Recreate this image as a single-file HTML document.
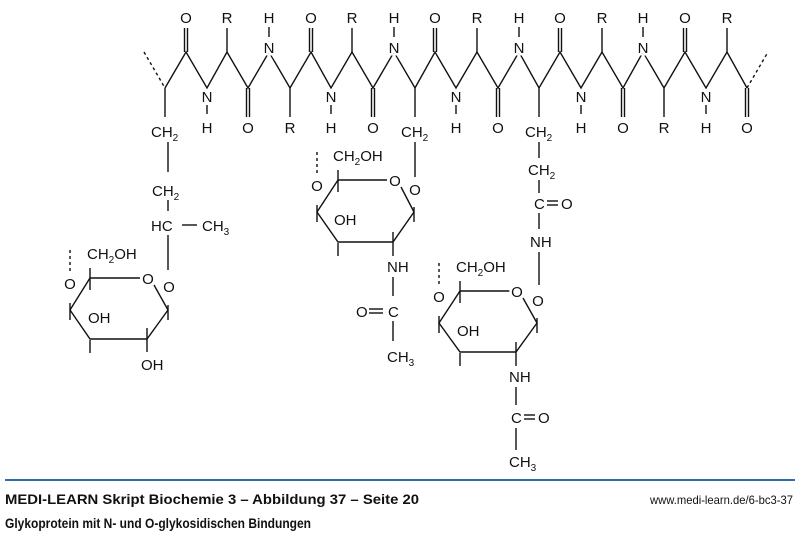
<!DOCTYPE html>
<html><head><meta charset="utf-8"><style>
html,body{margin:0;padding:0;background:#fff;}
svg{display:block;}
text{font-family:"Liberation Sans",sans-serif;font-size:15px;fill:#111;}
.n{stroke:#fff;stroke-width:5px;paint-order:stroke;}
.s{font-size:10px;}
line,polyline{stroke:#111;stroke-width:1.4;fill:none;}
.d{stroke-dasharray:3,3;}
.f{font-family:"Liberation Sans Narrow","Liberation Sans",sans-serif;}
</style></head><body>
<svg width="800" height="535" viewBox="0 0 800 535" xmlns="http://www.w3.org/2000/svg">
<!-- backbone -->
<line class="d" x1="144" y1="52" x2="165" y2="88"/>
<line class="d" x1="747" y1="88" x2="768" y2="52"/>
<polyline points="165,88 186,52 207,88 227,52 248,88 269,52 290,88 311,52 331,88 352,52 373,88 394,52 415,88 435,52 456,88 477,52 498,88 519,52 539,88 560,52 581,88 602,52 623,88 643,52 664,88 685,52 706,88 727,52 747,88"/>
<!-- upper C=O -->
<g>
<line x1="184.5" y1="52" x2="184.5" y2="28"/><line x1="187.5" y1="52" x2="187.5" y2="28"/>
<line x1="309.5" y1="52" x2="309.5" y2="28"/><line x1="312.5" y1="52" x2="312.5" y2="28"/>
<line x1="433.5" y1="52" x2="433.5" y2="28"/><line x1="436.5" y1="52" x2="436.5" y2="28"/>
<line x1="558.5" y1="52" x2="558.5" y2="28"/><line x1="561.5" y1="52" x2="561.5" y2="28"/>
<line x1="683.5" y1="52" x2="683.5" y2="28"/><line x1="686.5" y1="52" x2="686.5" y2="28"/>
</g>
<!-- upper R -->
<line x1="227" y1="52" x2="227" y2="28"/><line x1="352" y1="52" x2="352" y2="28"/>
<line x1="477" y1="52" x2="477" y2="28"/><line x1="602" y1="52" x2="602" y2="28"/>
<line x1="727" y1="52" x2="727" y2="28"/>
<!-- upper N-H -->
<line x1="269" y1="27" x2="269" y2="37"/><line x1="394" y1="27" x2="394" y2="37"/>
<line x1="519" y1="27" x2="519" y2="37"/><line x1="643" y1="27" x2="643" y2="37"/>
<!-- lower C=O -->
<line x1="246.5" y1="88" x2="246.5" y2="117"/><line x1="249.5" y1="88" x2="249.5" y2="117"/>
<line x1="371.5" y1="88" x2="371.5" y2="117"/><line x1="374.5" y1="88" x2="374.5" y2="117"/>
<line x1="496.5" y1="88" x2="496.5" y2="117"/><line x1="499.5" y1="88" x2="499.5" y2="117"/>
<line x1="621.5" y1="88" x2="621.5" y2="117"/><line x1="624.5" y1="88" x2="624.5" y2="117"/>
<line x1="745.5" y1="88" x2="745.5" y2="117"/><line x1="748.5" y1="88" x2="748.5" y2="117"/>
<!-- lower R / CH2 -->
<line x1="290" y1="88" x2="290" y2="117"/><line x1="664" y1="88" x2="664" y2="117"/>
<line x1="165" y1="88" x2="165" y2="117"/><line x1="415" y1="88" x2="415" y2="117"/>
<line x1="539" y1="88" x2="539" y2="117"/>
<!-- lower N-H -->
<line x1="207" y1="105" x2="207" y2="114"/><line x1="331" y1="105" x2="331" y2="114"/>
<line x1="456" y1="105" x2="456" y2="114"/><line x1="581" y1="105" x2="581" y2="114"/>
<line x1="706" y1="105" x2="706" y2="114"/>
<!-- top labels -->
<g text-anchor="middle">
<text x="186" y="23">O</text><text x="227" y="23">R</text><text x="269" y="23">H</text>
<text x="311" y="23">O</text><text x="352" y="23">R</text><text x="394" y="23">H</text>
<text x="435" y="23">O</text><text x="477" y="23">R</text><text x="519" y="23">H</text>
<text x="560" y="23">O</text><text x="602" y="23">R</text><text x="643" y="23">H</text>
<text x="685" y="23">O</text><text x="727" y="23">R</text>
<text class="n" x="269" y="53">N</text><text class="n" x="394" y="53">N</text>
<text class="n" x="519" y="53">N</text><text class="n" x="643" y="53">N</text>
<text class="n" x="207" y="102">N</text><text class="n" x="331" y="102">N</text>
<text class="n" x="456" y="102">N</text><text class="n" x="581" y="102">N</text>
<text class="n" x="706" y="102">N</text>
<text x="207" y="133">H</text><text x="248" y="133">O</text><text x="290" y="133">R</text>
<text x="331" y="133">H</text><text x="373" y="133">O</text><text x="456" y="133">H</text>
<text x="498" y="133">O</text><text x="581" y="133">H</text><text x="623" y="133">O</text>
<text x="664" y="133">R</text><text x="706" y="133">H</text><text x="747" y="133">O</text>
</g>
<text x="151" y="137">CH<tspan class="s" dy="4">2</tspan></text>
<text x="401" y="137">CH<tspan class="s" dy="4">2</tspan></text>
<text x="525" y="137">CH<tspan class="s" dy="4">2</tspan></text>

<!-- side chain 1 (Thr) -->
<line x1="168" y1="142" x2="168" y2="172"/>
<text x="152" y="196">CH<tspan class="s" dy="4">2</tspan></text>
<line x1="168" y1="200" x2="168" y2="211"/>
<text x="151" y="231">HC</text>
<line x1="182" y1="225" x2="197" y2="225"/>
<text x="202" y="231">CH<tspan class="s" dy="4">3</tspan></text>
<line x1="168" y1="235" x2="168" y2="270"/>

<!-- sugar 1 -->
<g>
<line x1="90" y1="278" x2="140" y2="278"/>
<line x1="154" y1="285" x2="168" y2="310"/>
<polyline points="168,310 147,339 90,339 70,310 90,278"/>
<line x1="90" y1="268" x2="90" y2="290"/>
<line x1="70" y1="303" x2="70" y2="320"/>
<line x1="90" y1="340" x2="90" y2="353"/>
<line x1="147" y1="328" x2="147" y2="352"/>
<line x1="168" y1="305" x2="168" y2="320"/>
<line class="d" x1="70" y1="250" x2="70" y2="272"/>
<text x="87" y="259">CH<tspan class="s" dy="4">2</tspan><tspan dy="-4">OH</tspan></text>
<g text-anchor="middle"><text class="n" x="70" y="289">O</text><text class="n" x="148" y="284">O</text><text class="n" x="169" y="292">O</text></g>
<text x="88" y="323">OH</text>
<text x="141" y="370">OH</text>
</g>

<!-- side chain 2 (Ser) -->
<line x1="415" y1="142" x2="415" y2="177"/>
<!-- sugar 2 -->
<g>
<line x1="338" y1="180" x2="387" y2="180"/>
<line x1="401" y1="187" x2="414" y2="212"/>
<polyline points="414,212 393,242 338,242 317,212 338,180"/>
<line x1="338" y1="170" x2="338" y2="192"/>
<line x1="317" y1="205" x2="317" y2="222"/>
<line x1="338" y1="243" x2="338" y2="256"/>
<line x1="393" y1="232" x2="393" y2="256"/>
<line x1="414" y1="207" x2="414" y2="222"/>
<line class="d" x1="317" y1="152" x2="317" y2="174"/>
<text x="333" y="161">CH<tspan class="s" dy="4">2</tspan><tspan dy="-4">OH</tspan></text>
<g text-anchor="middle"><text class="n" x="317" y="191">O</text><text class="n" x="395" y="186">O</text><text class="n" x="415" y="195">O</text></g>
<text x="334" y="225">OH</text>
<text x="387" y="272">NH</text>
<line x1="393" y1="277" x2="393" y2="296"/>
<text x="356" y="317">O</text>
<line x1="369" y1="309" x2="383" y2="309"/><line x1="369" y1="313" x2="383" y2="313"/>
<text x="388" y="317">C</text>
<line x1="393" y1="321" x2="393" y2="341"/>
<text x="387" y="362">CH<tspan class="s" dy="4">3</tspan></text>
</g>

<!-- side chain 3 (Asn) -->
<line x1="539" y1="142" x2="539" y2="158"/>
<text x="528" y="175">CH<tspan class="s" dy="4">2</tspan></text>
<line x1="539" y1="180" x2="539" y2="193"/>
<text x="534" y="209">C</text>
<line x1="547" y1="201" x2="558" y2="201"/><line x1="547" y1="205" x2="558" y2="205"/>
<text x="561" y="209">O</text>
<line x1="539" y1="213" x2="539" y2="229"/>
<text x="530" y="247">NH</text>
<line x1="539" y1="252" x2="539" y2="285"/>
<!-- sugar 3 -->
<g>
<line x1="460" y1="291" x2="510" y2="291"/>
<line x1="523" y1="298" x2="537" y2="323"/>
<polyline points="537,323 516,352 460,352 439,323 460,291"/>
<line x1="460" y1="281" x2="460" y2="303"/>
<line x1="439" y1="316" x2="439" y2="333"/>
<line x1="460" y1="353" x2="460" y2="366"/>
<line x1="516" y1="342" x2="516" y2="366"/>
<line x1="537" y1="318" x2="537" y2="333"/>
<line class="d" x1="439" y1="263" x2="439" y2="285"/>
<text x="456" y="272">CH<tspan class="s" dy="4">2</tspan><tspan dy="-4">OH</tspan></text>
<g text-anchor="middle"><text class="n" x="439" y="302">O</text><text class="n" x="517" y="297">O</text><text class="n" x="538" y="306">O</text></g>
<text x="457" y="336">OH</text>
<text x="509" y="382">NH</text>
<line x1="516" y1="387" x2="516" y2="405"/>
<text x="511" y="423">C</text>
<line x1="524" y1="415" x2="535" y2="415"/><line x1="524" y1="419" x2="535" y2="419"/>
<text x="538" y="423">O</text>
<line x1="516" y1="428" x2="516" y2="450"/>
<text x="509" y="467">CH<tspan class="s" dy="4">3</tspan></text>
</g>

<!-- footer -->
<line x1="5" y1="480" x2="795" y2="480" style="stroke:#2a6db0;stroke-width:2"/>
<text class="f" x="5" y="504" style="font-size:14px;font-weight:bold" textLength="414" lengthAdjust="spacingAndGlyphs">MEDI-LEARN Skript Biochemie 3 – Abbildung 37 – Seite 20</text>
<text class="f" x="5" y="528" style="font-size:14px;font-weight:bold" textLength="306" lengthAdjust="spacingAndGlyphs">Glykoprotein mit N- und O-glykosidischen Bindungen</text>
<text class="f" x="650" y="504" style="font-size:12px" textLength="143" lengthAdjust="spacingAndGlyphs">www.medi-learn.de/6-bc3-37</text>
</svg>
</body></html>
